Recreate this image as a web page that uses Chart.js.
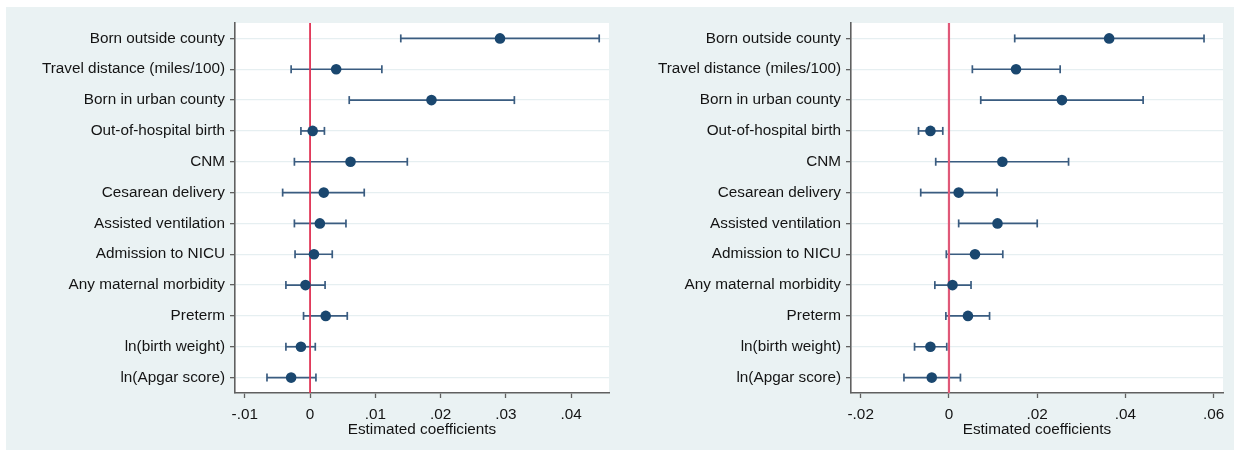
<!DOCTYPE html>
<html>
<head>
<meta charset="utf-8">
<script src="https://cdn.jsdelivr.net/npm/chart.js@4.4.1/dist/chart.umd.min.js"></script>
<style>
  html, body { margin: 0; padding: 0; background: #fff; }
  #wrap { position: relative; width: 1234px; height: 450px; overflow: hidden; }
  #bg { position: absolute; left: 6px; top: 7px; right: 0; bottom: 0; background: #eaf2f3; }
  .panel { position: absolute; top: 0; width: 617px; height: 450px; }
</style>
</head>
<body>
<div id="wrap">
  <div id="bg"></div>
  <div class="panel" style="left:0"><canvas id="leftChart"></canvas></div>
  <div class="panel" style="left:617px"><canvas id="rightChart"></canvas></div>
</div>
<script>
// Outcome labels, top to bottom
const labels = [
  'Born outside county', 'Travel distance (miles/100)', 'Born in urban county',
  'Out-of-hospital birth', 'CNM', 'Cesarean delivery', 'Assisted ventilation',
  'Admission to NICU', 'Any maternal morbidity', 'Preterm', 'ln(birth weight)', 'ln(Apgar score)'
];

// Left panel: point estimates and 95% CI bounds
const leftCoef = [0.0291, 0.0040, 0.0186, 0.0004, 0.0062, 0.0021, 0.0015, 0.0006, -0.0007, 0.0024, -0.0014, -0.0029];
const leftLow  = [0.0139, -0.0029, 0.0060, -0.0014, -0.0024, -0.0042, -0.0024, -0.0023, -0.0037, -0.0010, -0.0037, -0.0066];
const leftHigh = [0.0443, 0.0110, 0.0313, 0.0022, 0.0149, 0.0083, 0.0055, 0.0034, 0.0023, 0.0057, 0.0008, 0.0009];
const leftTicks = [-0.01, 0, 0.01, 0.02, 0.03, 0.04];
const leftTickLabels = ['-.01', '0', '.01', '.02', '.03', '.04'];

// Right panel
const rightCoef = [0.0363, 0.0152, 0.0256, -0.0042, 0.0121, 0.0022, 0.0110, 0.0059, 0.0008, 0.0043, -0.0042, -0.0039];
const rightLow  = [0.0149, 0.0053, 0.0072, -0.0069, -0.0030, -0.0064, 0.0022, -0.0006, -0.0032, -0.0007, -0.0078, -0.0102];
const rightHigh = [0.0578, 0.0252, 0.0440, -0.0014, 0.0271, 0.0109, 0.0200, 0.0122, 0.0050, 0.0092, -0.0005, 0.0026];
const rightTicks = [-0.02, 0, 0.02, 0.04, 0.06];
const rightTickLabels = ['-.02', '0', '.02', '.04', '.06'];

const TEXT = '#141414';
const AXIS = '#606060';
const NAVY = '#1a476f';
const CI = '#3a5c80';

Chart.defaults.font.family = "'Liberation Sans', Arial, sans-serif";
Chart.defaults.font.size = 15.3;
Chart.defaults.color = TEXT;

// white plot region like Stata's plotregion
const plotBg = {
  id: 'plotBg',
  beforeDraw(chart) {
    const { ctx, chartArea: a } = chart;
    ctx.save();
    ctx.fillStyle = '#ffffff';
    ctx.fillRect(a.left, a.top, a.right - a.left, a.bottom - a.top);
    ctx.restore();
  }
};

function makeForest(id, coef, low, high, ticks, tickLabels, o) {
  const ciSets = labels.map((_, i) => ({
    data: [{ x: low[i], y: i + 1 }, { x: high[i], y: i + 1 }],
    showLine: true,
    borderColor: CI,
    borderWidth: 1.7,
    pointStyle: 'line',
    pointRadius: 4,
    pointRotation: 90,
    pointBorderColor: CI,
    pointBorderWidth: 1.7,
    order: 2
  }));

  return new Chart(document.getElementById(id), {
    type: 'scatter',
    data: {
      datasets: [
        {
          data: coef.map((c, i) => ({ x: c, y: i + 1 })),
          pointRadius: 5.3,
          pointBackgroundColor: NAVY,
          pointBorderColor: NAVY,
          pointBorderWidth: 0,
          order: 0
        },
        {
          data: [{ x: 0, y: 0.5 }, { x: 0, y: 12.5 }],
          showLine: true,
          borderColor: o.refColor,
          borderWidth: o.refWidth,
          pointRadius: 0,
          order: 1
        },
        ...ciSets
      ]
    },
    options: {
      responsive: true,
      maintainAspectRatio: false,
      animation: false,
      devicePixelRatio: 1,
      layout: { padding: { left: 0, right: o.padRight, top: 23, bottom: 0 } },
      plugins: { legend: { display: false }, tooltip: { enabled: false } },
      scales: {
        x: {
          type: 'linear',
          min: o.xMin,
          max: o.xMax,
          afterBuildTicks: s => { s.ticks = ticks.map(v => ({ value: v })); },
          afterFit: s => { s.height = 57; },
          ticks: {
            callback: (v, i) => tickLabels[i],
            autoSkip: false,
            maxRotation: 0,
            padding: 8,
            color: TEXT
          },
          grid: { drawOnChartArea: false, drawTicks: true, tickLength: 5, tickColor: AXIS, tickWidth: 1.3 },
          border: { color: AXIS, width: 1.6 },
          title: {
            display: true,
            text: 'Estimated coefficients',
            color: TEXT,
            padding: { top: 0, bottom: 11 }
          }
        },
        y: {
          type: 'linear',
          reverse: true,
          min: 0.5,
          max: 12.5,
          afterBuildTicks: s => { s.ticks = labels.map((_, i) => ({ value: i + 1 })); },
          afterFit: s => { s.width = o.yWidth; },
          ticks: {
            callback: v => labels[Math.round(v) - 1],
            autoSkip: false,
            padding: 5,
            color: TEXT
          },
          grid: { color: '#e6eff1', lineWidth: 1.3, tickLength: 5, tickColor: AXIS, tickWidth: 1.3 },
          border: { color: AXIS, width: 1.6 }
        }
      }
    },
    plugins: [plotBg]
  });
}

makeForest('leftChart', leftCoef, leftLow, leftHigh, leftTicks, leftTickLabels,
  { xMin: -0.0115, xMax: 0.0458, padRight: 8, yWidth: 235, refColor: '#e03355', refWidth: 1.8 });
makeForest('rightChart', rightCoef, rightLow, rightHigh, rightTicks, rightTickLabels,
  { xMin: -0.0222, xMax: 0.0621, padRight: 11, yWidth: 234, refColor: '#e05878', refWidth: 2.2 });
</script>
</body>
</html>
